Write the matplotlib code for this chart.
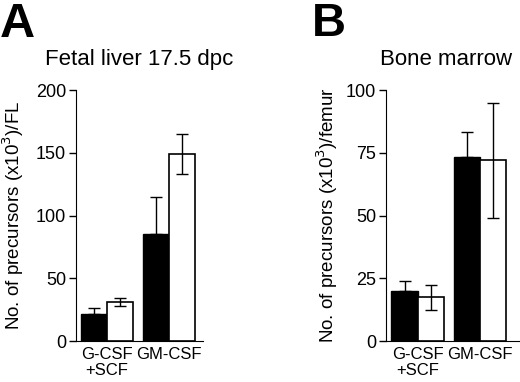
import matplotlib.pyplot as plt
import numpy as np

plt.rcParams['font.family'] = ['Liberation Sans', 'DejaVu Sans']

# data
categories = ["G-CSF\n+SCF", "GM-CSF"]
fl_black = [22, 85]
fl_black_err = [4, 30]
fl_white = [31, 149]
fl_white_err = [3, 16]
bm_black = [20, 73.5]
bm_black_err = [4, 10]
bm_white = [17.5, 72]
bm_white_err = [5, 23]

fig = plt.figure(figsize=(5.2, 3.82), dpi=100)

def panel(rect, black, black_err, white, white_err, ylim, yticks, ylabel, xlim, labx):
    ax = fig.add_axes(rect)
    x = np.arange(len(categories))
    w = 0.42
    ax.bar(x - w / 2, black, w, color="black", edgecolor="black", linewidth=1)
    ax.bar(x + w / 2, white, w, color="white", edgecolor="black", linewidth=1.2)
    # black bars: upper error only; white bars: both directions
    ax.errorbar(x - w / 2, black, yerr=[np.zeros(len(black)), black_err], fmt="none",
                ecolor="black", elinewidth=1, capsize=4.5, capthick=1)
    ax.errorbar(x + w / 2, white, yerr=white_err, fmt="none",
                ecolor="black", elinewidth=1, capsize=4.5, capthick=1)
    ax.set_ylim(*ylim)
    ax.set_xlim(*xlim)
    ax.set_yticks(yticks)
    ax.set_xticks(x)
    ax.set_xticklabels(categories, fontsize=12, linespacing=1.1)
    ax.tick_params(axis="x", length=0, pad=4)
    ax.tick_params(axis="y", labelsize=13, length=5, width=1, pad=2)
    ax.spines["top"].set_visible(False)
    ax.spines["right"].set_visible(False)
    ax.set_ylabel(ylabel, fontsize=13.5)
    ax.yaxis.set_label_coords(labx, 0.5)
    return ax

axA = panel([0.146, 0.107, 0.245, 0.657], fl_black, fl_black_err, fl_white, fl_white_err,
            (0, 200), [0, 50, 100, 150, 200], "No. of precursors (x10$^3$)/FL",
            (-0.5, 1.56), -0.395)
axB = panel([0.742, 0.107, 0.256, 0.657], bm_black, bm_black_err, bm_white, bm_white_err,
            (0, 100), [0, 25, 50, 75, 100], "No. of precursors (x10$^3$)/femur",
            (-0.51, 1.62), -0.345)

fig.text(0.267, 0.843, "Fetal liver 17.5 dpc", fontsize=16, ha="center", va="center")
fig.text(0.858, 0.843, "Bone marrow", fontsize=16, ha="center", va="center")

fig.text(0.0, 0.995, "A", fontsize=35, fontweight="bold", va="top", ha="left")
fig.text(0.6, 0.995, "B", fontsize=34, fontweight="bold", va="top", ha="left")

fig.savefig("out.png", dpi=100)
